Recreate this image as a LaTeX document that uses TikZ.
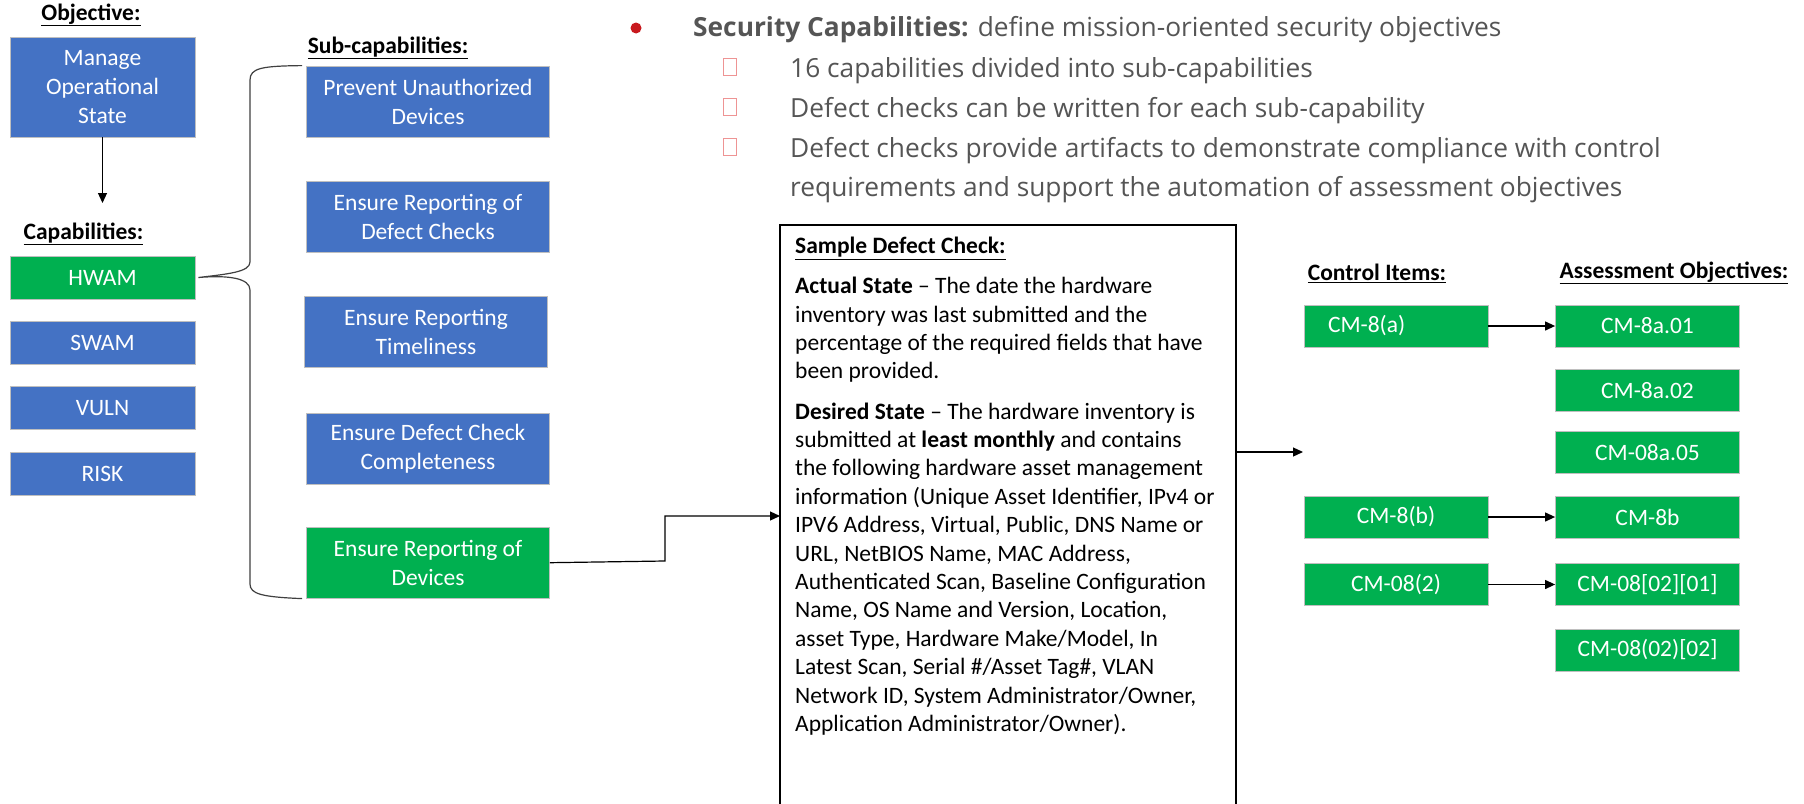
\documentclass[tikz,border=0pt]{standalone}
\usepackage{fontspec}
\setmainfont{Carlito}
\newfontfamily\slidefont{Open Sans}
\usetikzlibrary{arrows.meta,positioning}
\definecolor{capblue}{HTML}{4472C4}
\definecolor{capgreen}{HTML}{00B050}
\definecolor{bulletred}{HTML}{C8191E}
\definecolor{tofupink}{HTML}{EE9494}
\definecolor{slidegray}{HTML}{555555}
\begin{document}
\begin{tikzpicture}[x=1pt,y=-1pt,
  blk/.style={rectangle, draw=black!25, line width=0.8pt, text=white, inner sep=0pt, align=center, font=\fontsize{23.5}{29}\selectfont},
  capbox/.style={blk, fill=capblue, minimum width=185pt, minimum height=43pt},
  subbox/.style={blk, fill=capblue, minimum width=243pt, minimum height=71pt},
  ctlbox/.style={blk, fill=capgreen, minimum width=184pt, minimum height=42pt},
  hdr/.style={font=\fontsize{23.5}{27}\selectfont\bfseries, inner sep=0pt},
  slide/.style={font=\slidefont\fontsize{26.3}{32}\selectfont, text=slidegray, anchor=base west, inner sep=0pt},
  tofu/.style={draw=tofupink, line width=1pt, minimum width=13pt, minimum height=17pt, inner sep=0pt},
  dctext/.style={anchor=north west, align=left, inner sep=0pt, font=\fontsize{23.5}{28.4}\selectfont},
  arr/.style={-{Triangle[length=10pt,width=9pt]}, line width=1.2pt},
  brace/.style={line width=1.2pt, black!75}]
  \path[use as bounding box, fill=white] (0,0) rectangle (1804,803);

  % left column
  \node[hdr] (objlbl) at (91,15) {\underline{Objective:}};
  \node[capbox, minimum height=100pt] (manage) at (102.5,87) {Manage\\Operational\\State};
  \coordinate (captop) at (102.5,203);
  \draw[arr] (manage.south) -- (captop);
  \node[hdr] (caplbl) at (83.5,234) {\underline{Capabilities:}};
  \node[capbox, fill=capgreen] (hwam) at (102.5,277.5) {HWAM};
  \node[capbox, below=22pt of hwam] (swam) {SWAM};
  \node[capbox, below=21pt of swam] (vuln) {VULN};
  \node[capbox, below=22pt of vuln] (risk) {RISK};

  % sub-capabilities
  \node[hdr] (sublbl) at (388,48) {\underline{Sub-capabilities:}};
  \node[subbox] (prevent) at (428,101.5) {Prevent Unauthorized\\Devices};
  \node[subbox, below=44pt of prevent] (repchk) {Ensure Reporting of\\Defect Checks};
  \node[subbox, below=43pt of repchk, xshift=-2pt] (timely) {Ensure Reporting\\Timeliness};
  \node[subbox, below=45pt of timely, xshift=2pt] (complete) {Ensure Defect Check\\Completeness};
  \node[subbox, fill=capgreen, below=42pt of complete] (devices) {Ensure Reporting of\\Devices};
  \draw[brace] ([xshift=-4pt]prevent.north west) .. controls (262,66) and (250,68) .. (250,80) -- (250,262)
    .. controls (250,272) and (228,274) .. ([xshift=3pt]hwam.east)
    .. controls (228,275) and (250,278) .. (250,290) -- (250,584)
    .. controls (250,594) and (262,597) .. ([xshift=-4pt]devices.south west);

  % slide text
  \node[circle, fill=bulletred, minimum size=11pt, inner sep=0pt] (dot) at (636,28) {};
  \node[slide] (secline) at (693,36) {\textbf{Security Capabilities:} define mission-oriented security objectives};
  \foreach \n/\y/\t in {one/77/16 capabilities divided into sub-capabilities, two/117/Defect checks can be written for each sub-capability, three/157/Defect checks provide artifacts to demonstrate compliance with control} {
    \node[tofu] (box\n) at (730,\y-10) {};
    \node[slide] (item\n) at (790,\y) {\t};
  }
  \node[slide] (itemcont) at (790,196) {requirements and support the automation of assessment objectives};

  % sample defect check
  \coordinate (dctl) at (780,225);
  \coordinate (dctr) at (1236,225);
  \draw[line width=1.5pt] (780,810) -- (dctl) -- (dctr) -- (1236,810);
  \node[dctext] (dcheck) at (795,237) {\textbf{\underline{Sample Defect Check:}}\\[11.7pt]
    \textbf{Actual State} -- The date the hardware\\
    inventory was last submitted and the\\
    percentage of the required fields that have\\
    been provided.\\[11.7pt]
    \textbf{Desired State} -- The hardware inventory is\\
    submitted at \textbf{least monthly} and contains\\
    the following hardware asset management\\
    information (Unique Asset Identifier, IPv4 or\\
    IPV6 Address, Virtual, Public, DNS Name or\\
    URL, NetBIOS Name, MAC Address,\\
    Authenticated Scan, Baseline Configuration\\
    Name, OS Name and Version, Location,\\
    asset Type, Hardware Make/Model, In\\
    Latest Scan, Serial \#/Asset Tag\#, VLAN\\
    Network ID, System Administrator/Owner,\\
    Application Administrator/Owner).};
  \coordinate (bend) at (665,561);
  \coordinate (dcin) at (780,516);
  \draw[arr] (devices.east) -- (bend) |- (dcin);

  % control items and assessment objectives
  \node[hdr] (ctllbl) at (1377,273) {\underline{Control Items:}};
  \node[hdr] (aolbl) at (1674,273) {\underline{Assessment Objectives:}};
  \foreach \n/\y/\t in {ao1/326/CM-8a.01, ao2/390.5/CM-8a.02, ao5/452.5/CM-08a.05, ao8b/517/CM-8b, ao821/584.5/{CM-08[02][01]}, ao822/650/{CM-08(02)[02]}}
    \node[ctlbox] (\n) at (1647.5,\y) {\t};
  \node[ctlbox, text width=136pt, inner xsep=24pt, align=left] (cm8a) at (1396,326) {CM-8(a)};
  \node[ctlbox] (cm8b) at (1396,517) {CM-8(b)};
  \node[ctlbox] (cm082) at (1396,584.5) {CM-08(2)};
  \draw[arr] (cm8a) -- (ao1);
  \draw[arr] (cm8b) -- (ao8b);
  \draw[arr] (cm082) -- (ao821);
  \coordinate (dcout) at (1236,452);
  \coordinate (ctlin) at (1303,452);
  \draw[arr] (dcout) -- (ctlin);
\end{tikzpicture}
\end{document}
